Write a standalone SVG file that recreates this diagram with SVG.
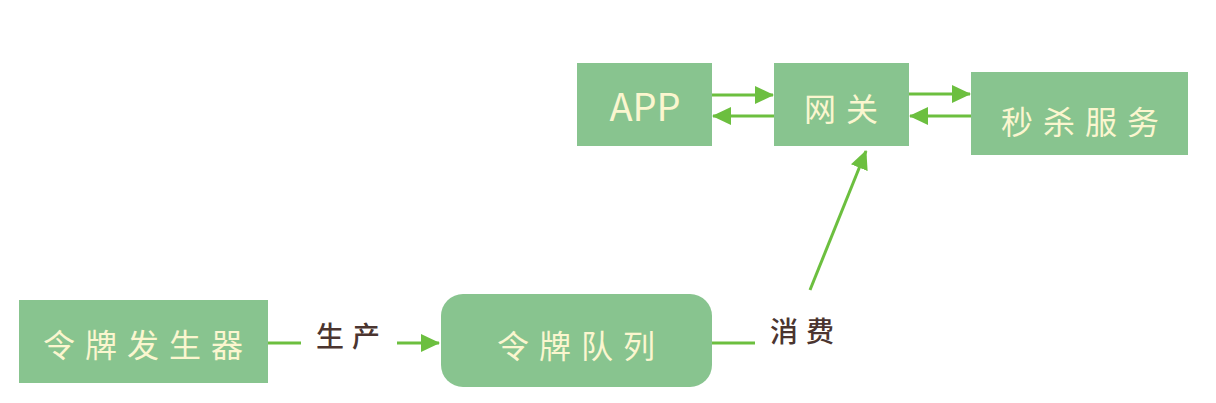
<svg xmlns="http://www.w3.org/2000/svg" width="1216" height="403" viewBox="0 0 1216 403">
<style>
.box{fill:#88c48f;}
.bt{font-family:"Noto Sans CJK SC","Noto Sans",sans-serif;font-weight:400;fill:#fbf6cf;text-anchor:middle;dominant-baseline:central;}
.lt{font-family:"Noto Sans CJK SC",sans-serif;font-weight:500;fill:#4b3530;text-anchor:middle;dominant-baseline:central;font-size:28px;letter-spacing:8px;}
.c{stroke:#6cbf3f;stroke-width:3;fill:none;}
</style>
<defs>
<marker id="ah" markerUnits="userSpaceOnUse" markerWidth="20" markerHeight="18" refX="18" refY="9" orient="auto">
<path d="M0,0 L19,9 L0,18 Z" fill="#6cbf3f"/>
</marker>
</defs>
<rect width="1216" height="403" fill="#ffffff"/>
<g id="app"><rect class="box" x="577" y="63" width="135" height="83"/><text class="bt" x="645" y="104" font-size="38" font-weight="300">APP</text></g>
<g id="gateway"><rect class="box" x="774" y="63" width="135" height="83"/><text class="bt" x="846" y="107" font-size="32" letter-spacing="10">网关</text></g>
<g id="seckill"><rect class="box" x="971" y="72" width="217" height="83"/><text class="bt" x="1085" y="120" font-size="32" letter-spacing="10">秒杀服务</text></g>
<g id="generator"><rect class="box" x="19" y="300" width="249" height="83"/><text class="bt" x="148" y="343" font-size="32" letter-spacing="10">令牌发生器</text></g>
<g id="queue"><rect class="box" x="441" y="294" width="271" height="93" rx="22"/><text class="bt" x="581" y="344" font-size="32" letter-spacing="10">令牌队列</text></g>
<g id="connectors">
<line class="c" x1="268" y1="343" x2="301" y2="343"/>
<text class="lt" x="352" y="335">生产</text>
<line class="c" x1="397" y1="343" x2="439" y2="343" marker-end="url(#ah)"/>
<line class="c" x1="712" y1="343" x2="755" y2="343"/>
<text class="lt" x="806" y="330">消费</text>
<line class="c" x1="810" y1="290" x2="866" y2="151" marker-end="url(#ah)"/>
<line class="c" x1="712" y1="95" x2="773" y2="95" marker-end="url(#ah)"/>
<line class="c" x1="774" y1="116" x2="713" y2="116" marker-end="url(#ah)"/>
<line class="c" x1="909" y1="94" x2="970" y2="94" marker-end="url(#ah)"/>
<line class="c" x1="971" y1="116" x2="910" y2="116" marker-end="url(#ah)"/>
</g>
</svg>
